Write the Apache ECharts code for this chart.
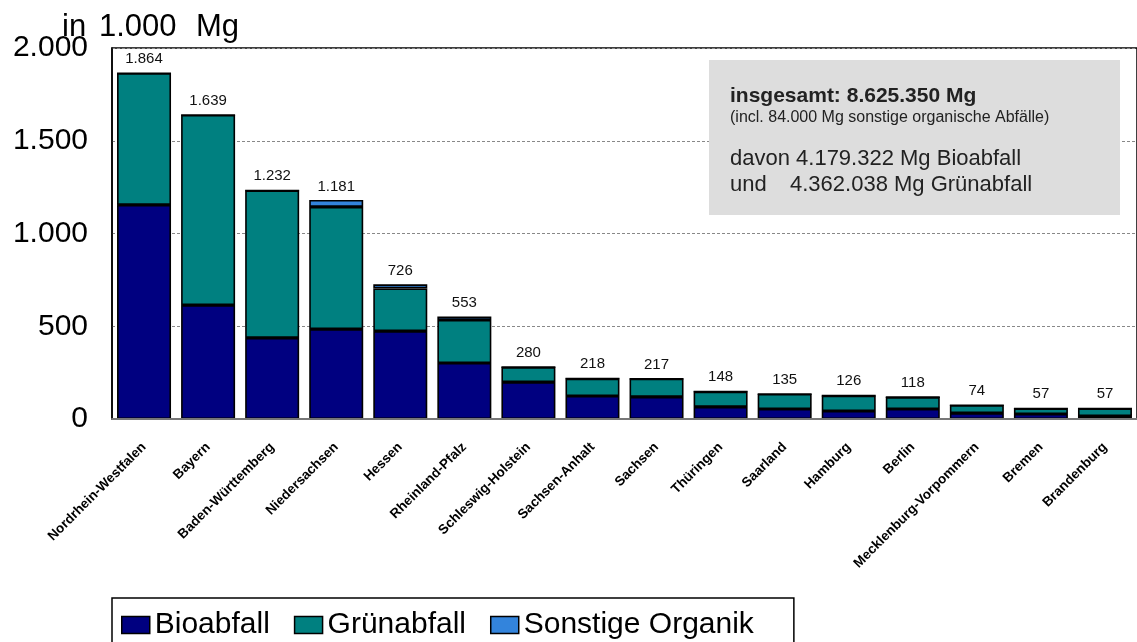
<!DOCTYPE html>
<html>
<head>
<meta charset="utf-8">
<script src="https://cdn.jsdelivr.net/npm/echarts@6/dist/echarts.min.js"></script>
<style>
  html, body { margin: 0; padding: 0; background: #fff; }
  #chart { width: 1137px; height: 642px; }
</style>
</head>
<body>
<div id="chart"></div>
<script>
// Bundesländer
var laender = ['Nordrhein-Westfalen', 'Bayern', 'Baden-Württemberg', 'Niedersachsen', 'Hessen',
    'Rheinland-Pfalz', 'Schleswig-Holstein', 'Sachsen-Anhalt', 'Sachsen', 'Thüringen', 'Saarland',
    'Hamburg', 'Berlin', 'Mecklenburg-Vorpommern', 'Bremen', 'Brandenburg'];
// Werte in 1.000 Mg
var bioabfall = [1154, 614, 437, 485, 474, 302, 199, 124, 119, 65, 54, 43, 54, 32, 27, 16];
var gruenabfall = [710, 1025, 795, 658, 230, 232, 81, 94, 98, 83, 81, 83, 64, 42, 30, 41];
var sonstige = [0, 0, 0, 38, 22, 19, 0, 0, 0, 0, 0, 0, 0, 0, 0, 0];
var yTicks = [0, 500, 1000, 1500, 2000];

var FONT = "'Liberation Sans', Arial, sans-serif";

function fmt(v) {
    return String(v).replace(/\B(?=(\d{3})+(?!\d))/g, '.');
}

var summe = laender.map(function (n, i) {
    return bioabfall[i] + gruenabfall[i] + sonstige[i];
});

var myChart = echarts.init(document.getElementById('chart'));

var balken = {
    type: 'bar',
    stack: 'gesamt',
    barWidth: 54,
    itemStyle: { borderColor: '#000', borderWidth: 1.6 }
};

var option = {
    animation: false,
    textStyle: { fontFamily: FONT },
    grid: {
        left: 112, top: 48, right: -5, bottom: 223,
        show: true, borderColor: '#000', borderWidth: 1.5
    },
    legend: {
        left: 112, top: 598,
        padding: [12, 40, 30, 9],
        borderColor: '#000', borderWidth: 1.5,
        itemWidth: 28, itemHeight: 17, itemGap: 24,
        icon: 'rect',
        textStyle: { fontSize: 30, color: '#000', fontFamily: FONT },
        itemStyle: { borderColor: '#000', borderWidth: 1.5 },
        data: ['Bioabfall', 'Grünabfall', 'Sonstige Organik']
    },
    xAxis: {
        type: 'category',
        data: laender,
        axisLine: { lineStyle: { color: '#777', width: 2 } },
        axisTick: { show: false },
        axisLabel: {
            interval: 0, rotate: 45, margin: 26,
            fontSize: 13.5, fontWeight: 'bold', color: '#000', fontFamily: FONT
        },
        z: 5
    },
    yAxis: {
        type: 'value',
        min: yTicks[0], max: yTicks[yTicks.length - 1], interval: 500,
        axisLine: { show: true, lineStyle: { color: '#000', width: 1.5 } },
        axisTick: { show: false },
        axisLabel: {
            fontSize: 30, color: '#000', margin: 24, fontFamily: FONT,
            formatter: function (v) { return fmt(v); }
        },
        splitLine: { lineStyle: { color: '#888', type: [3, 2], width: 1 } }
    },
    series: [
        Object.assign({}, balken, { name: 'Bioabfall', data: bioabfall, color: '#000080' }),
        Object.assign({}, balken, { name: 'Grünabfall', data: gruenabfall, color: '#008080' }),
        Object.assign({}, balken, {
            name: 'Sonstige Organik', data: sonstige, color: '#3384dc',
            label: {
                show: true, position: 'top', distance: 6,
                fontSize: 15, color: '#111', fontFamily: FONT,
                formatter: function (p) { return fmt(summe[p.dataIndex]); }
            }
        })
    ],
    graphic: [
        // Achsentitel, etwas gesperrt wie im Original
        { type: 'text', left: 62, top: 12, style: { text: 'in', font: '31px ' + FONT, fill: '#000' } },
        { type: 'text', left: 99, top: 12, style: { text: '1.000', font: '31px ' + FONT, fill: '#000' } },
        { type: 'text', left: 196, top: 12, style: { text: 'Mg', font: '31px ' + FONT, fill: '#000' } },
        // Infokasten
        { type: 'rect', shape: { x: 709, y: 60, width: 411, height: 155 }, style: { fill: '#dddddd' }, z: 10 },
        { type: 'text', x: 730, y: 96, z: 11, style: { text: 'insgesamt: 8.625.350 Mg', font: 'bold 21px ' + FONT, fill: '#222', verticalAlign: 'middle' } },
        { type: 'text', x: 730, y: 118, z: 11, style: { text: '(incl. 84.000 Mg sonstige organische Abfälle)', font: '16px ' + FONT, fill: '#222', verticalAlign: 'middle' } },
        { type: 'text', x: 730, y: 159, z: 11, style: { text: 'davon 4.179.322 Mg Bioabfall', font: '22px ' + FONT, fill: '#222', verticalAlign: 'middle' } },
        { type: 'text', x: 730, y: 185, z: 11, style: { text: 'und', font: '22px ' + FONT, fill: '#222', verticalAlign: 'middle' } },
        { type: 'text', x: 790, y: 185, z: 11, style: { text: '4.362.038 Mg Grünabfall', font: '22px ' + FONT, fill: '#222', verticalAlign: 'middle' } }
    ]
};

myChart.setOption(option);
</script>
</body>
</html>
